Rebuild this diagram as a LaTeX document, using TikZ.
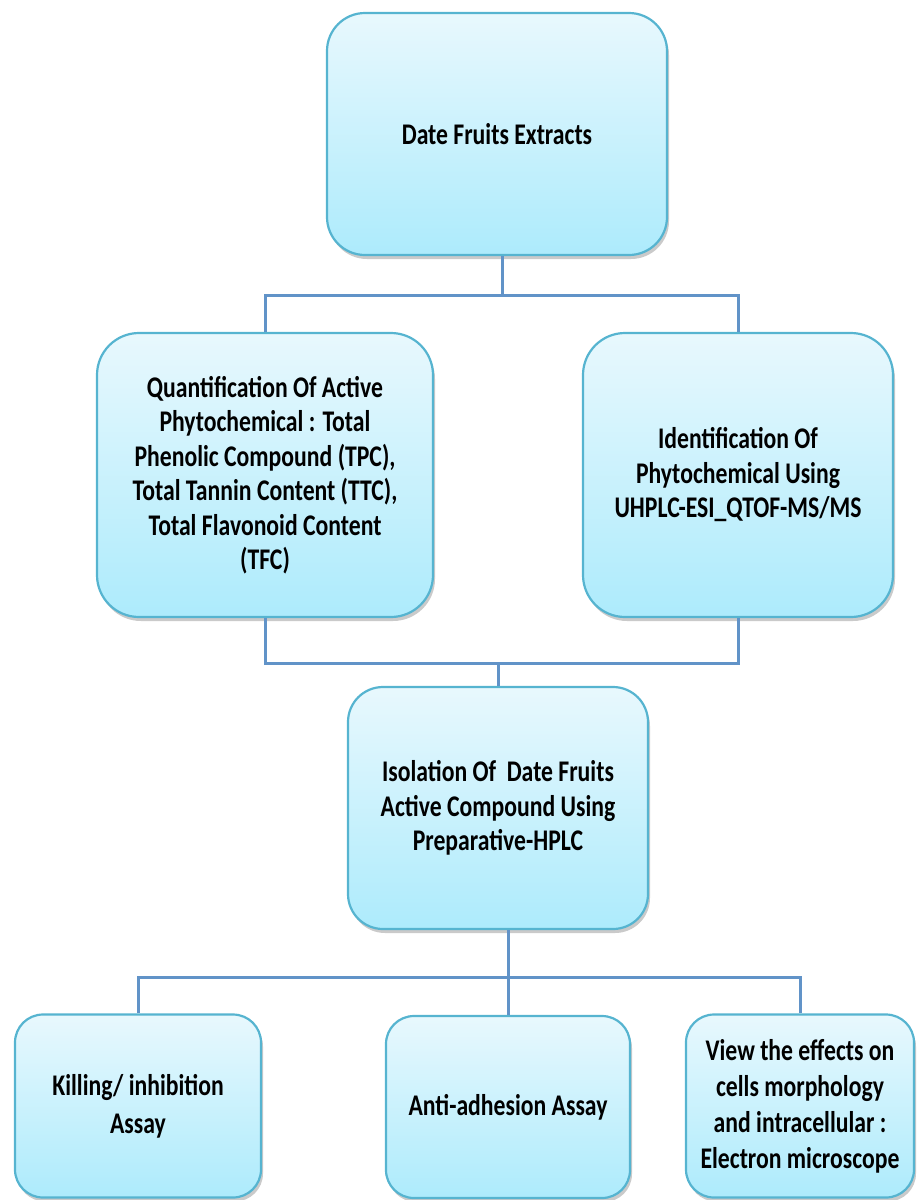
\documentclass[tikz,border=0pt]{standalone}
\usepackage{fontspec}
\setmainfont{Carlito}[FakeStretch=0.79]
\usetikzlibrary{shadows}

\definecolor{boxline}{HTML}{56B4D0}
\definecolor{boxtop}{HTML}{E8F8FD}
\definecolor{boxbot}{HTML}{ADEBFC}
\definecolor{linkblue}{HTML}{6193C8}

\tikzset{
  box/.style={draw=boxline, line width=2.2pt, top color=boxtop, bottom color=boxbot,
    align=center, inner sep=4pt, font=\fontsize{30}{34.5}\selectfont\bfseries,
    drop shadow={shadow xshift=2pt, shadow yshift=-4pt, opacity=0.35, fill=black!60}},
  link/.style={draw=linkblue, line width=3pt}
}

\begin{document}
\begin{tikzpicture}[x=1pt, y=-1pt]
        \useasboundingbox (0,0) rectangle (920,1200);

        % Top extract
        \node[box, rounded corners=38pt, minimum width=340pt, minimum height=242pt] (dfe) at (497,134) {Date Fruits Extracts};

        % Phytochemical analysis
        \node[box, rounded corners=42pt, minimum width=336pt, minimum height=284pt] (quant) at (265,475) {Quantification Of Active\\Phytochemical : Total\\Phenolic Compound (TPC),\\Total Tannin Content (TTC),\\Total Flavonoid Content\\(TFC)};
        \node[box, rounded corners=42pt, minimum width=310pt, minimum height=284pt] (ident) at (738,475) {Identification Of\\Phytochemical Using\\UHPLC-ESI\_QTOF-MS/MS};

        % Isolation
        \node[box, rounded corners=35pt, minimum width=300pt, minimum height=242pt] (iso) at (498,808) {Isolation Of\ \ Date Fruits\\Active Compound Using\\Preparative-HPLC};

        % Assays
        \node[box, rounded corners=28pt, minimum width=246pt, minimum height=183pt, font=\fontsize{30}{38}\selectfont\bfseries] (kill) at (138,1106) {Killing/ inhibition\\Assay};
        \node[box, rounded corners=28pt, minimum width=244pt, minimum height=182pt] (anti) at (508,1107) {Anti-adhesion Assay};
        \node[box, rounded corners=28pt, minimum width=228pt, minimum height=183pt, font=\fontsize{30}{36}\selectfont\bfseries] (view) at (800,1106) {View the effects on\\cells morphology\\and intracellular :\\Electron microscope};

        % Connect nodes
        \coordinate (j1) at (502,295);
        \coordinate (j2) at (iso.north |- 0,663);
        \coordinate (j3) at (anti.north |- 0,977);

        \draw[link] (j1 |- dfe.south) -- (j1);
        \draw[link] (quant.north) |- (j1) -| (ident.north);

        \draw[link] (quant.south) |- (j2) -| (ident.south);
        \draw[link] (j2) -- (iso.north);

        \draw[link] (iso.south -| anti.north) -- (anti.north);
        \draw[link] (kill.north) |- (j3) -| (view.north);
    \end{tikzpicture}
\end{document}
